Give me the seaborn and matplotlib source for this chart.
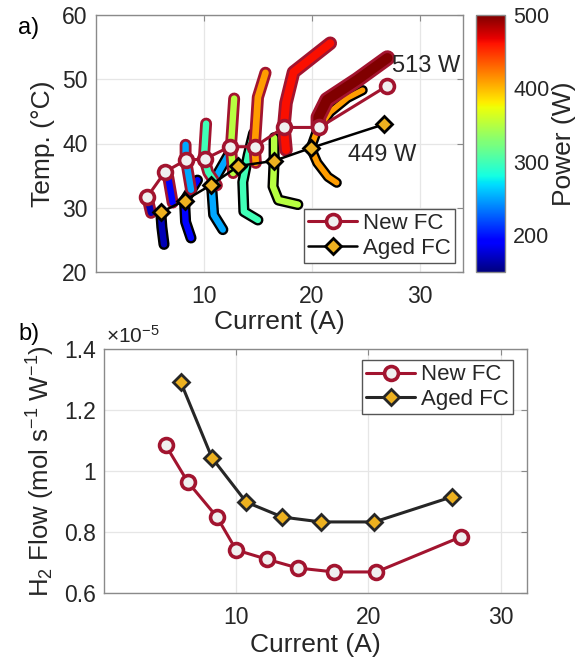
import numpy as np
import pandas as pd
import matplotlib
matplotlib.use('Agg')
import matplotlib.pyplot as plt
from matplotlib.colors import Normalize
from matplotlib.cm import ScalarMappable
from matplotlib.ticker import FuncFormatter
import seaborn as sns

# ---------------- data ----------------
# panel a) steady-state points
new_I = [4.75, 6.4, 8.3, 10.1, 12.4, 14.7, 17.4, 20.7, 27.0]
new_T = [31.7, 35.6, 37.4, 37.6, 39.5, 39.5, 42.5, 42.5, 49.0]
aged_I = [6.0, 8.2, 10.7, 13.2, 16.5, 19.9, 26.7]
aged_T = [29.3, 31.1, 33.6, 36.5, 37.3, 39.3, 43.0]

# panel a) transient trajectories (coloured by power, W)
new_tr_power = [167, 195, 252, 300, 350, 410, 462, 513]
new_tr_I = [[4.75, 5.1],
            [6.4, 6.7, 7.1],
            [8.3, 8.3, 8.8],
            [10.2, 10.0, 10.4, 11.2],
            [12.8, 12.5, 12.7],
            [15.7, 15.0, 14.7, 14.8],
            [21.7, 18.3, 17.6, 17.4, 17.6],
            [27.0, 24.2, 21.4, 20.6, 20.6]]
new_tr_T = [[31.7, 29.2],
            [35.6, 34.7, 30.8],
            [39.8, 37.8, 32.8],
            [43.1, 37.8, 35.5, 33.5],
            [47.0, 39.5, 35.4],
            [51.0, 47.2, 39.5, 37.0],
            [55.6, 51.1, 46.3, 42.6, 39.0],
            [53.3, 49.9, 46.8, 44.1, 42.6]]

aged_tr_power = [167, 195, 252, 300, 350, 410]
aged_tr_I = [[6.0, 6.1, 6.3],
             [9.4, 8.2, 8.3, 8.8],
             [12.3, 10.7, 10.9, 11.75],
             [14.6, 14.1, 13.6, 13.7, 15.0],
             [16.5, 16.5, 16.4, 16.9, 18.7],
             [24.7, 23.3, 21.7, 20.5, 19.9, 20.5, 21.5, 22.3]]
aged_tr_T = [[29.3, 27.0, 24.3],
             [34.3, 31.1, 27.8, 25.3],
             [38.3, 33.6, 28.9, 26.6],
             [41.6, 38.2, 34.0, 29.4, 28.1],
             [40.9, 37.3, 33.3, 31.2, 30.5],
             [48.3, 47.1, 44.9, 42.1, 39.3, 37.0, 34.8, 33.9]]

# panel b) H2 flow (mol s^-1 W^-1)
flow_new_I = [4.66, 6.34, 8.55, 10.0, 12.3, 14.66, 17.4, 20.6, 27.0]
flow_new = [1.085e-5, 0.964e-5, 0.849e-5, 0.741e-5, 0.711e-5, 0.682e-5, 0.669e-5, 0.669e-5, 0.784e-5]
flow_aged_I = [5.8, 8.17, 10.76, 13.5, 16.4, 20.46, 26.3]
flow_aged = [1.292e-5, 1.043e-5, 0.898e-5, 0.849e-5, 0.833e-5, 0.833e-5, 0.915e-5]

labels = ['New FC', 'Aged FC']
annot_a = ['513 W', '449 W']
power_range = [150, 500]
power_ticks = [200, 300, 400, 500]

# ---------------- styles ----------------
RED = '#A2142F'
ORANGE = '#EDB120'
FACE = '#F0F0F0'
TXT = '#262626'
SPINE = '#8a8a8a'
FS_TICK = 16.5
FS_LAB = 19
FS_LEG = 16

sns.set_style('white')
plt.rcParams['font.family'] = ['Liberation Sans', 'DejaVu Sans']
plt.rcParams['mathtext.fontset'] = 'custom'
plt.rcParams['mathtext.rm'] = 'Liberation Sans'
plt.rcParams['mathtext.it'] = 'Liberation Sans:italic'
plt.rcParams['mathtext.default'] = 'regular'

cmap = plt.get_cmap('jet')
norm = Normalize(*power_range)

W, H = 579, 658
fig = plt.figure(figsize=(W / 100, H / 100), dpi=100)
ax1 = fig.add_axes([96 / W, 1 - 272 / H, (463 - 96) / W, (272 - 15) / H])
cax = fig.add_axes([476 / W, 1 - 272 / H, 29 / W, (272 - 15) / H])
ax2 = fig.add_axes([104 / W, 1 - 593 / H, (527 - 104) / W, (593 - 349) / H])


def style_axes(ax):
    for s in ax.spines.values():
        s.set_color(SPINE)
        s.set_linewidth(1.0)
    ax.grid(True, color='#e6e6e6', linewidth=0.9)
    ax.set_axisbelow(True)
    ax.tick_params(direction='in', length=4, width=0.8, color=SPINE,
                   labelsize=FS_TICK, labelcolor=TXT, top=True, right=True)
    ax.tick_params(axis='x', pad=9)
    ax.tick_params(axis='y', pad=6)


def trace(ax, I, T, power, lw, outline, olw, z):
    # outline underneath, coloured stroke on top
    for c, w, zz in ((outline, olw, z), (cmap(norm(power)), lw, z + 0.05)):
        sns.lineplot(x=I, y=T, ax=ax, sort=False, estimator=None,
                     color=c, linewidth=w, legend=False, zorder=zz)
        ln = ax.lines[-1]
        ln.set_linewidth(w)
        ln.set_zorder(zz)
        ln.set_solid_capstyle('round')
        ln.set_solid_joinstyle('round')


# ---------------- panel a ----------------
aged_lw = [4.6, 4.6, 4.6, 4.6, 4.6, 4.0]
for i in range(len(aged_tr_power)):
    trace(ax1, aged_tr_I[i], aged_tr_T[i], aged_tr_power[i], aged_lw[i], 'black',
          aged_lw[i] + 3.4, 2 + 0.1 * i)

new_lw = [4.6, 4.6, 4.6, 4.6, 4.6, 4.8, 5.8, 7.2]
for i in range(len(new_tr_power)):
    trace(ax1, new_tr_I[i], new_tr_T[i], new_tr_power[i], new_lw[i], RED,
          new_lw[i] + 4.0, 3 + 0.1 * i)

sns.lineplot(x=new_I, y=new_T, ax=ax1, sort=False, estimator=None, color=RED,
             linewidth=2.2, marker='o', markersize=10, markerfacecolor=FACE,
             markeredgecolor=RED, markeredgewidth=2.6, label=labels[0], zorder=5)
sns.lineplot(x=aged_I, y=aged_T, ax=ax1, sort=False, estimator=None, color='black',
             linewidth=1.8, marker='D', markersize=8.5, markerfacecolor=ORANGE,
             markeredgecolor='black', markeredgewidth=2.0, label=labels[1], zorder=6)

ax1.set_xlim(0, 34)
ax1.set_ylim(20, 60)
ax1.set_xticks([10, 20, 30])
ax1.set_yticks([20, 30, 40, 50, 60])
style_axes(ax1)
ax1.set_xlabel('Current (A)', fontsize=FS_LAB, color=TXT, labelpad=2)
ax1.set_ylabel('Temp. (°C)', fontsize=FS_LAB, color=TXT, labelpad=5)
ax1.text(27.4, 52.1, annot_a[0], fontsize=17, color=TXT, va='center', ha='left', zorder=7)
ax1.text(23.3, 38.2, annot_a[1], fontsize=17, color=TXT, va='center', ha='left', zorder=7)
leg1 = ax1.legend(loc='lower right', bbox_to_anchor=(0.978, 0.035), borderaxespad=0,
                  fontsize=FS_LEG, frameon=True, fancybox=False, framealpha=1,
                  edgecolor='#555555', handlelength=2.2, handletextpad=0.25,
                  labelspacing=0.15, borderpad=0.2)
leg1.get_frame().set_linewidth(1.0)
for t in leg1.get_texts():
    t.set_color(TXT)
leg1.set_zorder(10)

# colorbar
sm = ScalarMappable(norm=norm, cmap=cmap)
cb = fig.colorbar(sm, cax=cax)
cb.set_ticks(power_ticks)
cb.outline.set_edgecolor(SPINE)
cb.outline.set_linewidth(1.0)
cax.tick_params(labelsize=15.5, labelcolor=TXT, direction='in', length=3, color=SPINE, pad=6)
cb.set_label('Power (W)', fontsize=FS_LAB, color=TXT, labelpad=2)

# ---------------- panel b ----------------
sns.lineplot(x=flow_new_I, y=flow_new, ax=ax2, sort=False, estimator=None, color=RED,
             linewidth=2.2, marker='o', markersize=10, markerfacecolor=FACE,
             markeredgecolor=RED, markeredgewidth=2.6, label=labels[0], zorder=5)
sns.lineplot(x=flow_aged_I, y=flow_aged, ax=ax2, sort=False, estimator=None, color='#262626',
             linewidth=2.2, marker='D', markersize=8.5, markerfacecolor=ORANGE,
             markeredgecolor='#262626', markeredgewidth=2.0, label=labels[1], zorder=6)
ax2.set_xlim(0, 32)
ax2.set_ylim(0.6e-5, 1.4e-5)
ax2.set_xticks([10, 20, 30])
ax2.set_yticks([0.6e-5, 0.8e-5, 1.0e-5, 1.2e-5, 1.4e-5])
ax2.yaxis.set_major_formatter(FuncFormatter(lambda v, p: f'{v * 1e5:g}'))
style_axes(ax2)
ax2.set_xlabel('Current (A)', fontsize=FS_LAB, color=TXT, labelpad=3)
ax2.set_ylabel('H$_2$ Flow (mol s$^{-1}$ W$^{-1}$)', fontsize=18.5, color=TXT, labelpad=5)
ax2.text(0.005, 1.01, '×10$^{-5}$', transform=ax2.transAxes, fontsize=15,
         color=TXT, ha='left', va='bottom')
leg2 = ax2.legend(loc='upper right', bbox_to_anchor=(0.967, 0.955), borderaxespad=0,
                  fontsize=FS_LEG, frameon=True, fancybox=False, framealpha=1,
                  edgecolor='#555555', handlelength=2.2, handletextpad=0.25,
                  labelspacing=0.15, borderpad=0.2)
leg2.get_frame().set_linewidth(1.0)
for t in leg2.get_texts():
    t.set_color(TXT)

fig.text(18 / W, 1 - 28 / H, 'a)', fontsize=17, color='black', va='center', ha='left')
fig.text(18 / W, 1 - 334 / H, 'b)', fontsize=17, color='black', va='center', ha='left')

fig.savefig('out.png', dpi=100)
